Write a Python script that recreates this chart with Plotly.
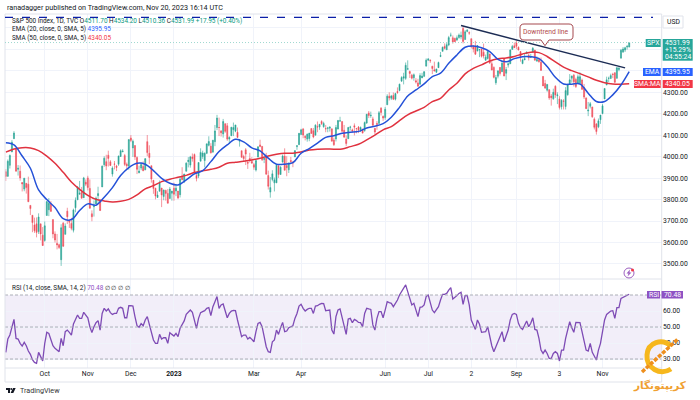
import pandas as pd
import plotly.graph_objects as go
from plotly.subplots import make_subplots

# S&P 500 daily bars, Sep 6 2022 to Nov 20 2023
holidays = ["2022-11-24", "2022-12-26", "2023-01-02", "2023-01-16", "2023-02-20", "2023-04-07",
            "2023-05-29", "2023-06-19", "2023-07-04", "2023-09-04"]
dates = [d for d in pd.bdate_range("2022-09-06", "2023-11-20").strftime("%Y-%m-%d") if d not in holidays]

opens = [3930,3909,3960,4022,4084,4037,3941,3932,3880,3849,3876,3872,3773,3727,3682,3687,3651,3687,3634,
         3610,3726,3753,3778,3707,3640,3596,3590,3520,3690,3638,3746,3703,3689,3657,3762,3799,3825,3834,3809,3881,
         3901,3852,3734,3767,3780,3818,3798,3859,3963,3977,4007,3976,3919,3966,3956,3965,4001,4023,4005,3965,3957,
         4087,4041,4052,3996,3925,3947,3954,3939,4070,4016,3958,3890,3853,3810,3839,3854,3815,3843,3829,3805,3830,
         3853,3840,3840,3823,3910,3888,3932,3977,3961,3999,4010,3912,3910,3979,4001,3982,4016,4053,4049,4021,
         4070,4136,4136,4120,4106,4153,4144,4082,4098,4126,4119,4114,4072,4028,4001,4032,3974,3992,3978,
         3963,3938,3998,4055,4048,3987,3998,3912,3835,3894,3878,3878,3958,3917,3975,4002,3959,3939,3982,3975,3999,4047,4056,
         4103,4129,4095,4082,4085,4131,4121,4100,4140,4138,4164,4140,4131,4132,4133,4130,4078,4083,4129,
         4166,4164,4123,4082,4084,4137,4125,4144,4132,4138,4126,4128,4122,4157,4204,4191,4176,4132,4155,4155,4226,4188,
         4183,4242,4282,4272,4285,4268,4304,4308,4352,4366,4365,4407,4397,4380,4368,4354,4344,4338,4367,4375,4422,
         4450,4449,4422,4405,4394,4415,4467,4491,4514,4498,4521,4566,4554,4551,4543,4555,4558,4598,4546,4584,
         4578,4550,4514,4514,4492,4498,4502,4487,4450,4458,4479,4433,4416,4345,4375,4416,4396,4455,4389,4427,4433,4500,4517,
         4530,4510,4490,4434,4451,4480,4473,4462,4487,4497,4445,4452,4440,4374,4341,4310,4312,4283,4270,4328,
         4284,4269,4233,4260,4234,4289,4339,4366,4380,4360,4342,4345,4357,4322,4274,4213,4235,4232,4175,4152,4139,4172,
         4201,4269,4334,4365,4364,4384,4391,4365,4406,4459,4487,4497,4511,4511]
highs = [3942,3987,4010,4077,4119,4040,3961,3959,3881,3900,3876,3907,3774,3727,3716,3717,3736,3687,3672,
         3698,3791,3807,3793,3707,3652,3640,3595,3685,3696,3689,3762,3703,3715,3758,3810,3862,3887,3859,3906,3894,
         3911,3894,3750,3796,3814,3860,3798,3959,4002,4009,4028,3984,3955,3980,3962,4005,4034,4035,4013,3973,4080,
         4101,4080,4052,4002,3958,3974,3978,3991,4101,4053,3958,3890,3855,3839,3889,3854,3846,3846,3849,3859,3840,
         3879,3873,3840,3907,3951,3920,3974,3998,4004,4015,4015,3923,3973,4039,4028,4020,4060,4095,4063,4077,
         4148,4195,4182,4124,4176,4156,4157,4095,4139,4159,4148,4136,4081,4028,4009,4040,3979,4018,3998,
         3971,3983,4048,4079,4050,4001,4018,3935,3905,3937,3903,3965,3959,3956,4010,4039,4002,3972,3999,3979,4030,4053,4110,
         4130,4134,4100,4108,4110,4132,4134,4151,4164,4152,4170,4163,4148,4139,4141,4130,4089,4148,4170,
         4186,4164,4148,4099,4139,4144,4131,4155,4132,4143,4141,4130,4164,4199,4213,4210,4186,4132,4166,4213,4231,4192,
         4232,4291,4300,4288,4299,4298,4323,4340,4375,4391,4439,4449,4401,4386,4388,4366,4363,4389,4391,4399,4458,
         4456,4454,4423,4443,4409,4443,4488,4513,4528,4533,4563,4578,4565,4555,4565,4574,4583,4607,4590,4595,
         4584,4550,4519,4540,4519,4502,4503,4527,4476,4490,4479,4449,4421,4381,4401,4418,4448,4459,4418,4440,4501,4521,4532,
         4542,4514,4491,4457,4481,4491,4480,4479,4511,4497,4467,4462,4462,4375,4358,4338,4314,4292,4317,4333,
         4300,4282,4268,4268,4324,4340,4385,4378,4386,4368,4383,4393,4364,4339,4276,4255,4255,4232,4183,4157,4178,4194,
         4246,4318,4373,4373,4387,4391,4393,4416,4420,4502,4511,4512,4521,4534]
lows = [3887,3906,3945,4022,4084,3932,3912,3888,3838,3839,3828,3790,3728,3648,3645,3624,3640,3610,3584,
        3604,3726,3723,3745,3620,3600,3568,3570,3491,3579,3638,3686,3668,3657,3647,3741,3799,3824,3803,3808,3863,
        3843,3758,3699,3721,3780,3780,3747,3859,3953,3937,3954,3957,3907,3941,3933,3957,3999,4021,3956,3943,3939,
        4068,3999,3985,3919,3923,3937,3934,3937,4002,3966,3879,3827,3801,3809,3838,3765,3797,3795,3783,3805,3795,
        3795,3816,3802,3810,3890,3877,3932,3950,3949,3977,3925,3885,3900,3979,3990,3950,4012,4048,4015,4021,
        4049,4124,4096,4094,4089,4111,4074,4060,4096,4096,4114,4089,4047,3996,3977,3961,3943,3973,3968,
        3939,3931,3998,4044,3980,3970,3918,3847,3809,3885,3838,3879,3901,3917,3972,3936,3909,3924,3970,3951,3999,4032,4056,
        4103,4086,4076,4070,4072,4108,4086,4100,4114,4125,4148,4135,4114,4114,4117,4072,4050,4071,4127,
        4164,4114,4090,4049,4084,4122,4113,4099,4109,4110,4115,4109,4116,4153,4180,4181,4146,4104,4125,4155,4192,4167,
        4172,4242,4262,4264,4264,4262,4293,4305,4350,4337,4358,4407,4367,4360,4354,4341,4328,4336,4367,4371,4422,
        4447,4437,4385,4399,4390,4414,4464,4491,4500,4498,4515,4558,4527,4535,4543,4550,4547,4528,4546,4580,
        4568,4505,4486,4474,4492,4464,4462,4458,4447,4453,4432,4403,4365,4335,4365,4378,4396,4375,4357,4415,4432,4500,4507,
        4501,4496,4443,4431,4451,4480,4448,4460,4487,4448,4445,4438,4402,4329,4316,4303,4265,4238,4265,4274,
        4245,4220,4220,4220,4220,4284,4339,4345,4327,4320,4342,4338,4311,4269,4224,4189,4225,4181,4127,4103,4133,4153,
        4198,4269,4334,4348,4364,4366,4343,4365,4398,4459,4487,4488,4499,4510]
closes = [3908,3979,4006,4067,4110,3932,3946,3901,3873,3900,3856,3790,3758,3693,3655,3647,3719,3640,3586,
          3678,3791,3783,3745,3640,3612,3589,3577,3669,3583,3677,3720,3695,3666,3752,3797,3859,3830,3807,3901,3872,
          3856,3760,3720,3771,3807,3828,3749,3956,3993,3957,3992,3959,3947,3965,3950,4003,4028,4026,3964,3958,4080,
          4076,4072,3999,3941,3933,3964,3934,3991,4019,3996,3896,3852,3817,3821,3879,3822,3845,3829,3783,3849,3840,
          3825,3853,3808,3895,3893,3919,3970,3983,3999,3991,3929,3899,3973,4020,4017,4016,4060,4071,4018,4077,
          4120,4180,4136,4111,4164,4118,4082,4090,4137,4136,4148,4090,4079,3997,3991,4012,3970,3982,3970,
          3951,3982,4046,4048,3986,3992,3918,3862,3856,3920,3892,3960,3917,3951,4003,3937,3949,3971,3978,3971,4028,4051,4109,
          4125,4101,4090,4105,4110,4108,4092,4147,4138,4151,4154,4155,4130,4134,4138,4072,4056,4136,4169,
          4167,4119,4091,4061,4136,4138,4120,4138,4131,4124,4136,4110,4159,4198,4192,4193,4146,4115,4151,4205,4206,4180,
          4221,4282,4274,4283,4268,4294,4299,4338,4369,4373,4426,4410,4388,4366,4382,4348,4328,4378,4376,4396,4450,
          4456,4447,4411,4399,4409,4439,4472,4510,4505,4522,4555,4566,4535,4536,4554,4567,4566,4537,4582,4589,
          4576,4513,4502,4478,4518,4499,4468,4469,4464,4490,4437,4404,4370,4369,4400,4388,4436,4376,4406,4433,4497,4514,4508,
          4515,4497,4465,4451,4457,4487,4461,4467,4505,4450,4453,4443,4402,4330,4320,4337,4274,4275,4300,4288,
          4288,4229,4263,4258,4308,4336,4358,4376,4349,4327,4373,4373,4314,4278,4224,4217,4247,4186,4137,4117,4167,4194,
          4237,4318,4358,4365,4378,4383,4347,4415,4412,4496,4502,4508,4514,4531.99]

# read every 4th bar
ema20 = [4065,4055,4003,3946,3845,3800,3763,3711,3707,3749,3780,3774,3811,3856,3912,3949,3969,3965,3935,3899,
         3876,3868,3892,3920,3935,3977,4024,4055,4081,4069,4041,4027,3993,3965,3965,3972,4016,4038,4063,4090,
         4098,4109,4114,4118,4134,4142,4154,4184,4230,4283,4311,4339,4373,4389,4435,4474,4510,4516,4508,4490,
         4454,4442,4457,4466,4466,4457,4420,4370,4339,4338,4339,4296,4257,4257,4288,4334,4395.95]
sma50 = [4021,4036,4042,4041,4028,4003,3969,3927,3882,3848,3820,3801,3794,3789,3792,3801,3822,3850,3865,3884,
         3895,3904,3913,3926,3934,3941,3951,3969,3974,3979,3985,3993,4003,4011,4016,4016,4022,4031,4035,4036,
         4035,4036,4047,4058,4078,4100,4125,4140,4168,4195,4213,4230,4257,4272,4311,4342,4386,4412,4428,4446,
         4456,4460,4467,4479,4487,4485,4467,4442,4417,4401,4387,4372,4356,4345,4339,4338,4340.05]

rsi = [34.2,42.5,45,50.2,54.8,42.9,42.5,39.8,38.1,40.4,
       38.3,35,32.9,29.6,27.9,27.3,34.2,31.5,28.8,39.8,
       46.7,46,41.9,38.3,36.7,35.4,34.6,42.9,38.3,47.1,
       48.1,46.7,45,51.9,54.4,57.5,55.4,55.4,59.2,57.5,
       55.8,50.2,46.5,50.2,52.7,54,48.1,58.5,61.7,60,
       61.3,59,57.9,58.5,58.5,61.7,62.3,61.7,55.8,55.8,
       63.3,63.3,63.1,56.5,50.8,49.8,52.1,50.8,54.4,56.5,
       51.3,46,41.9,39.8,39.8,45.4,42.5,43.3,43.3,39.8,
       46.5,45.4,44.4,46,44,49.2,51.7,53.8,57.9,59.2,
       60.6,59.2,54.4,49.2,55.4,59,59.6,60.2,61.7,62.1,
       57.1,62.7,65.8,69,61.7,63.8,64.4,59.6,55.8,58.5,
       60,60.4,60.2,54.4,49.2,44,45,45,42.5,43.5,
       42.3,40.8,47.1,52.3,52.9,50.2,44,37.7,34.6,34.2,
       40.8,41.9,48.1,45.4,49.6,52.9,47.1,47.5,49.6,50.2,
       50.8,55.4,58.5,63.1,64.2,61.7,60,61,61.7,61.7,
       58.5,63.1,63.3,64.2,64.8,64.6,60.2,60.4,60.6,48.1,
       45.6,56.5,60.6,61.3,55.4,49.2,45.4,55,
       55.4,52.7,54.8,54,52.9,52.7,50.2,58.5,61.7,61.3,
       61,51.3,48.1,55.4,59.6,59.6,55.8,60.6,65.8,65.2,
       64.8,62.7,64.8,66.9,70,72.1,73.8,76.3,72.1,67.9,
       63.8,64.8,60.6,56.5,62.3,62.5,63.8,69,70,64.8,
       60.6,59,60.6,62.7,66.9,70.4,70.4,71,73.1,74.6,
       67.5,68.3,69.6,71,71.7,64.2,69.6,69.6,63.8,54.4,
       50.8,48.5,54.4,51.7,46.7,46.7,47.1,50.2,42.9,38.3,
       34.6,37.7,39.8,44,47.1,40.8,44,48.1,54.4,57.9,
       58.5,57.9,52.3,49.6,48.5,51.3,53.8,50.2,52.3,55.8,
       48.5,48.1,42.9,35.6,33.5,35.6,33.5,30.4,30.4,33.5,
       34.6,33.5,28.8,35.6,35.6,42.9,49.2,53.3,49.6,46.7,
       52.9,52.9,52.7,47.1,40.8,35.6,35,39.8,34.2,31.5,
       29.4,35.6,39.8,47.1,54.4,57.9,59.2,60,60.2,55.4,
       62.1,62.1,67.9,68.5,69,69.4,70.48]

trend_dates = ["2023-07-26", "2023-11-16"]
trend_prices = [4611, 4414]
resistance_level = 4649
last_close = 4531.99

tick_dates = ["2022-10-03", "2022-11-01", "2022-12-01", "2023-01-03", "2023-03-01", "2023-04-03",
              "2023-06-01", "2023-07-03", "2023-08-02", "2023-09-01", "2023-10-03", "2023-11-01"]
tick_labels = ["Oct", "Nov", "Dec", "<b>2023</b>", "Mar", "Apr", "Jun", "Jul", "2", "Sep", "3", "Nov"]
price_ticks = [3500, 3600, 3700, 3800, 3900, 4000, 4100, 4200, 4300, 4400, 4500, 4600]
price_tick_labels = ["3500.00", "3600.00", "3700.00", "3800.00", "3900.00", "4000.00", "4100.00", "4200.00", "4300.00", "", "", ""]
rsi_ticks = [30, 40, 50, 60]
rsi_tick_labels = ["30.00", "40.00", "50.00", "60.00"]

assert len(dates) == len(opens) == len(highs) == len(lows) == len(closes) == len(rsi)

TEAL = "#089981"
RED = "#f23645"
BLUE = "#2451d8"
LINE_RED = "#e0323f"
PURPLE = "#7e4bb5"
FONT = "Roboto"
TXT = "#131722"
GRID = "#f0f3fa"
FRAME = "#e0e3eb"


# pixel position in the 700x400 picture -> paper coordinates
def X(x):
    return (x - 5) / (662 - 5)


def Y(y):
    return (368 - y) / (368 - 14)


def P(x, y):
    return f"{X(x):.5f},{Y(y):.5f}"


fig = make_subplots(rows=2, cols=1, shared_xaxes=True, vertical_spacing=0, row_heights=[265, 89])

fig.add_trace(go.Candlestick(x=dates, open=opens, high=highs, low=lows, close=closes,
                             increasing=dict(line=dict(color="#2ba596", width=0.6), fillcolor="#2ba596"),
                             decreasing=dict(line=dict(color="#ef4f5c", width=0.6), fillcolor="#ef4f5c"),
                             whiskerwidth=0, hoverinfo="skip"), row=1, col=1)
fig.add_trace(go.Scatter(x=dates[::4], y=sma50, mode="lines", line=dict(color=LINE_RED, width=1.5, shape="spline")), row=1, col=1)
fig.add_trace(go.Scatter(x=dates[::4], y=ema20, mode="lines", line=dict(color=BLUE, width=1.5, shape="spline")), row=1, col=1)
fig.add_trace(go.Scatter(x=trend_dates, y=trend_prices, mode="lines", line=dict(color="#1c2c54", width=1.5)), row=1, col=1)
fig.add_trace(go.Scatter(x=dates, y=rsi, mode="lines", line=dict(color=PURPLE, width=1.3)), row=2, col=1)

fig.update_xaxes(type="category", range=[-0.38, 320], tickmode="array", tickvals=tick_dates, ticktext=tick_labels,
                 showgrid=True, gridcolor=GRID, gridwidth=1, zeroline=False, showline=False, ticks="",
                 rangeslider_visible=False, tickfont=dict(family=FONT, size=6.8, color=TXT))
fig.update_xaxes(showticklabels=False, row=1, col=1)
fig.update_yaxes(side="right", range=[3430, 4665], tickmode="array", tickvals=price_ticks, ticktext=price_tick_labels,
                 showgrid=True, gridcolor=GRID, zeroline=False, ticks="", showline=False,
                 tickfont=dict(family=FONT, size=6.8, color=TXT), row=1, col=1)
fig.update_yaxes(side="right", range=[24.4, 80], tickmode="array", tickvals=rsi_ticks, ticktext=rsi_tick_labels,
                 showgrid=True, gridcolor=GRID, zeroline=False, ticks="", showline=False,
                 tickfont=dict(family=FONT, size=6.8, color=TXT), row=2, col=1)

shapes = []
# rsi band and its dashed levels
shapes.append(dict(type="rect", xref="paper", yref="y2", x0=0, x1=1, y0=30, y1=70, fillcolor="#7e57c2",
                   opacity=0.1, line_width=0, layer="below"))
for lv in [30, 50, 70]:
    shapes.append(dict(type="line", xref="paper", yref="y2", x0=0, x1=1, y0=lv, y1=lv,
                       line=dict(color="#a3a6af", width=0.9, dash="3px,2px")))
# frame
shapes.append(dict(type="rect", xref="paper", yref="paper", x0=X(5), x1=X(661.7), y0=Y(382), y1=Y(14),
                   line=dict(color=FRAME, width=1)))
for yy in [279, 368]:
    shapes.append(dict(type="line", xref="paper", yref="paper", x0=X(5), x1=X(661.7), y0=Y(yy), y1=Y(yy),
                       line=dict(color=FRAME, width=1)))
# resistance and last price
shapes.append(dict(type="line", xref="paper", yref="y", x0=X(5), x1=X(653), y0=resistance_level, y1=resistance_level,
                   line=dict(color="#0b1fa8", width=1.3, dash="8px,9px")))
shapes.append(dict(type="line", xref="paper", yref="y", x0=X(5), x1=X(662), y0=last_close, y1=last_close,
                   line=dict(color="#9fd8d0", width=1, dash="1px,2px")))
# callout
shapes.append(dict(type="path", xref="paper", yref="paper", fillcolor="white", line=dict(color="#a5484f", width=1),
                   path=f"M{P(524,24)} L{P(569,24)} Q{P(573,24)} {P(573,28)} L{P(573,36)} Q{P(573,40)} {P(569,40)} "
                        f"L{P(549,40)} L{P(545,45.7)} L{P(541,40)} L{P(524,40)} Q{P(520,40)} {P(520,36)} "
                        f"L{P(520,28)} Q{P(520,24)} {P(524,24)} Z"))


def tag(x0, x1, y0, y1, color):
    shapes.append(dict(type="rect", xref="paper", yref="paper", x0=X(x0), x1=X(x1), y0=Y(y1), y1=Y(y0),
                       fillcolor=color, line_width=0))


tag(645.7, 660.7, 39, 47, "#26a69a")
tag(662.7, 692.7, 39, 60.7, "#26a69a")
tag(643, 660.7, 68, 76, "#2962ff")
tag(662.7, 692.7, 68, 76, "#2962ff")
tag(634, 660.7, 80, 88, RED)
tag(662.7, 692.7, 80, 88, RED)
tag(647, 660, 291, 298.5, "#8e52c4")
tag(661.5, 683, 291, 298.5, "#8e52c4")
shapes.append(dict(type="rect", xref="paper", yref="paper", x0=X(663), x1=X(683), y0=Y(28), y1=Y(16),
                   fillcolor="white", line=dict(color=FRAME, width=1)))

# flash icon
shapes.append(dict(type="circle", xref="paper", yref="paper", x0=X(624), x1=X(634), y0=Y(278), y1=Y(268),
                   line=dict(color="#9c5fc0", width=1)))
shapes.append(dict(type="path", xref="paper", yref="paper", fillcolor="#9c5fc0", line_width=0,
                   path=f"M{P(630,269.5)} L{P(626.5,273.5)} L{P(628.5,273.5)} L{P(627.5,276.5)} L{P(631.5,272.5)} L{P(629.5,272.5)} Z"))
shapes.append(dict(type="circle", xref="paper", yref="paper", x0=X(631), x1=X(634), y0=Y(271.5), y1=Y(268.5),
                   fillcolor=RED, line_width=0))

# tradingview mark
shapes.append(dict(type="path", xref="paper", yref="paper", fillcolor="#131722", line_width=0,
                   path=f"M{P(6,388)} L{P(10,388)} L{P(10,393)} L{P(8,393)} L{P(8,390)} L{P(6,390)} Z"))
shapes.append(dict(type="circle", xref="paper", yref="paper", x0=X(10.3), x1=X(12.1), y0=Y(389.9), y1=Y(388.1),
                   fillcolor="#131722", line_width=0))
shapes.append(dict(type="path", xref="paper", yref="paper", fillcolor="#131722", line_width=0,
                   path=f"M{P(13,388)} L{P(15.7,388)} L{P(13.3,393)} L{P(10.6,393)} Z"))

# coin logo
shapes.append(dict(type="path", xref="paper", yref="paper", line=dict(color="#f6b71d", width=5),
                   path=f"M{P(671,346)} C{P(662,338)} {P(648,342)} {P(647,355)} C{P(646,368)} {P(660,376)} {P(671,369)}"))
shapes.append(dict(type="line", xref="paper", yref="paper", x0=X(642), x1=X(678), y0=Y(372), y1=Y(339),
                   line=dict(color="#ee8f1d", width=3.5, dash="4px,1.5px")))

anns = []


def text(x, y, s, size=6.8, color=TXT, anchor="left", family=FONT):
    anns.append(dict(xref="paper", yref="paper", x=X(x), y=Y(y), text=s, showarrow=False, xanchor=anchor, yanchor="middle",
                     font=dict(family=family, size=size, color=color)))


def col(s, c):
    return f'<span style="color:{c}">{s}</span>'


text(5, 7.5, "ranadagger published on TradingView.com, Nov 20, 2023 16:14 UTC", size=7.2)
text(9.5, 20.5, "S&amp;P 500 Index, 1D, TVC O" + col("4511.70", TEAL) + " H" + col("4534.20", TEAL) + " L" + col("4510.36", TEAL)
     + " C" + col("4531.99", TEAL) + " " + col("+17.95 (+0.40%)", TEAL), size=6.4)
text(9.5, 29, "EMA (20, close, 0, SMA, 5) " + col("4395.95", "#2962ff"), size=6.4)
text(9.5, 38, "SMA (50, close, 0, SMA, 5) " + col("4340.05", RED), size=6.4)
text(9.5, 287.5, "RSI (14, close, SMA, 14, 2) " + col("70.48", "#8e52c4") + " ∅ ∅ ∅ ∅", size=6.4)
text(546, 32, "Downtrend line", color="#b24a4a", anchor="center")
text(673, 22, "USD", anchor="center")
text(653, 43, "SPX", color="white", anchor="center")
text(677.7, 43, "4531.99", color="white", anchor="center")
text(677.7, 50, "+15.29%", color="white", anchor="center")
text(677.7, 57, "04:55:24", color="white", anchor="center")
text(652, 72, "EMA", color="white", anchor="center")
text(677.7, 72, "4395.95", color="white", anchor="center")
text(647.4, 84, "SMA:MA", color="white", anchor="center")
text(677.7, 84, "4340.05", color="white", anchor="center")
text(653.5, 294.7, "RSI", color="white", anchor="center")
text(672.2, 294.7, "70.48", color="white", anchor="center")
text(17.5, 391, "TradingView", size=7.2, color="#333333")
text(660, 385.5, "<b>کریپتونگار</b>", size=10.5, color="#f0a030", anchor="center", family="DejaVu Sans")

fig.update_layout(width=700, height=400, margin=dict(l=5, r=38, t=14, b=32), paper_bgcolor="white", plot_bgcolor="white",
                  showlegend=False, hovermode=False, shapes=shapes, annotations=anns,
                  xaxis_rangeslider_visible=False)
# page body has an 8px margin by default, drop it so the figure fills the window
fig.write_html("out.html", post_script="document.body.style.margin='0';", config={"displayModeBar": False})
